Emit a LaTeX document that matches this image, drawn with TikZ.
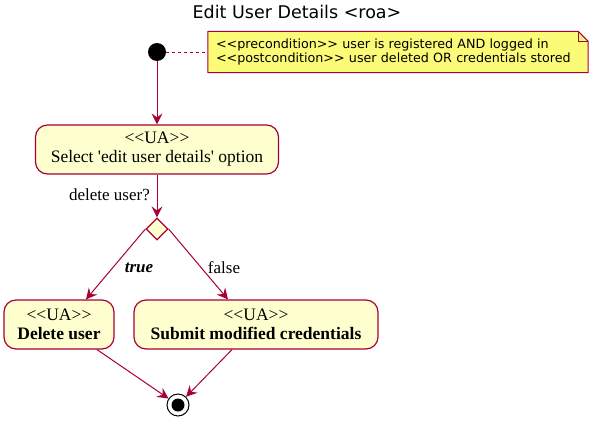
\documentclass[tikz,border=0pt]{standalone}
\usepackage{fontspec}
\setmainfont{Liberation Serif}[Ligatures=TeXOff]
\newfontfamily\notefont{DejaVu Sans}[Ligatures=TeXOff]
\usetikzlibrary{shapes.geometric, arrows.meta, positioning, backgrounds}
\usepackage{xcolor}
\definecolor{UMLBorder}{HTML}{A80036}
\definecolor{UMLFill}{HTML}{FEFECE}
\definecolor{UMLNote}{HTML}{FBFB77}
\tikzset{
    % Node styles
    startnode/.style={
        circle,
        fill=black,
        minimum size=18pt,
        inner sep=0pt
    },
    endnode/.style={
        circle,
        draw=black,
        line width=1pt,
        fill=white,
        minimum size=22pt,
        inner sep=0pt,
        path picture={\fill[black] (path picture bounding box.center) circle (6.5pt);}
    },
    activity/.style={
        rectangle,
        rounded corners=12pt,
        draw=UMLBorder,
        fill=UMLFill,
        line width=1.2pt,
        minimum height=49pt,
        inner sep=0pt,
        align=center,
        font=\fontsize{17.5}{19}\selectfont
    },
    branch/.style={
        diamond,
        draw=UMLBorder,
        fill=UMLFill,
        line width=1.2pt,
        minimum width=22pt,
        minimum height=22pt,
        inner sep=0pt
    },
    notebox/.style={
        rectangle,
        text width=364pt,
        minimum height=41pt,
        inner xsep=8pt,
        inner ysep=0pt,
        align=left,
        font=\notefont\fontsize{12.7}{14.5}\selectfont
    },
    guard/.style={
        font=\fontsize{17}{19}\selectfont
    },
    % Arrow styles
    arrow/.style={
        -{Stealth[length=11pt, width=11pt, inset=4pt]},
        line width=1pt,
        draw=UMLBorder
    },
    notelink/.style={
        dashed,
        line width=1pt,
        draw=UMLBorder
    }
}

\begin{document}
\begin{tikzpicture}[x=1pt, y=-1pt]
    \useasboundingbox (0,0) rectangle (596,423);
    \node[font=\notefont\fontsize{17.5}{19}\selectfont] (title) at (297,12) {Edit User Details <roa>};

    \node[startnode] (start) at (157,52) {};
    \node[notebox] (note) at (398,52) {<<precondition>> user is registered AND logged in\\<<postcondition>> user deleted OR credentials stored};
    \begin{scope}[on background layer]
        \filldraw[draw=UMLBorder, fill=UMLNote, line width=1pt]
            (note.north west) -- ([xshift=-10pt]note.north east) -- ([yshift=-10pt]note.north east)
            -- (note.south east) -- (note.south west) -- cycle;
        \draw[UMLBorder, line width=1pt] ([xshift=-10pt]note.north east) |- ([yshift=-10pt]note.north east);
    \end{scope}
    \draw[notelink] (start) -- (note.west);

    \node[activity, minimum width=243pt] (select) at (157,149.5) {<<UA>>\\Select 'edit user details' option};
    \node[branch] (choice) at (157,229) {};
    \node[activity, minimum width=110pt] (delete) at (59,324.5) {<<UA>>\\\textbf{Delete user}};
    \node[activity, minimum width=244pt] (submit) at (256,324.5) {<<UA>>\\\textbf{Submit modified credentials}};
    \node[endnode] (stop) at (178,405) {};

    \draw[arrow] (start) -- (select.north);
    \draw[arrow] (select.south) -- (choice.north);
    \node[guard, anchor=east, inner sep=0pt] (ask) at (150,195) {delete user?};
    \draw[arrow] (choice.west) -- ([xshift=27pt]delete.north);
    \draw[arrow] (choice.east) -- ([xshift=-28pt]submit.north);
    \node[guard] (yes) at (139,268) {\textbf{\textit{true}}};
    \node[guard] (no) at (224,268) {false};
    \draw[arrow] ([xshift=38pt]delete.south) -- (stop);
    \draw[arrow] ([xshift=-24pt]submit.south) -- (stop);
\end{tikzpicture}
\end{document}
